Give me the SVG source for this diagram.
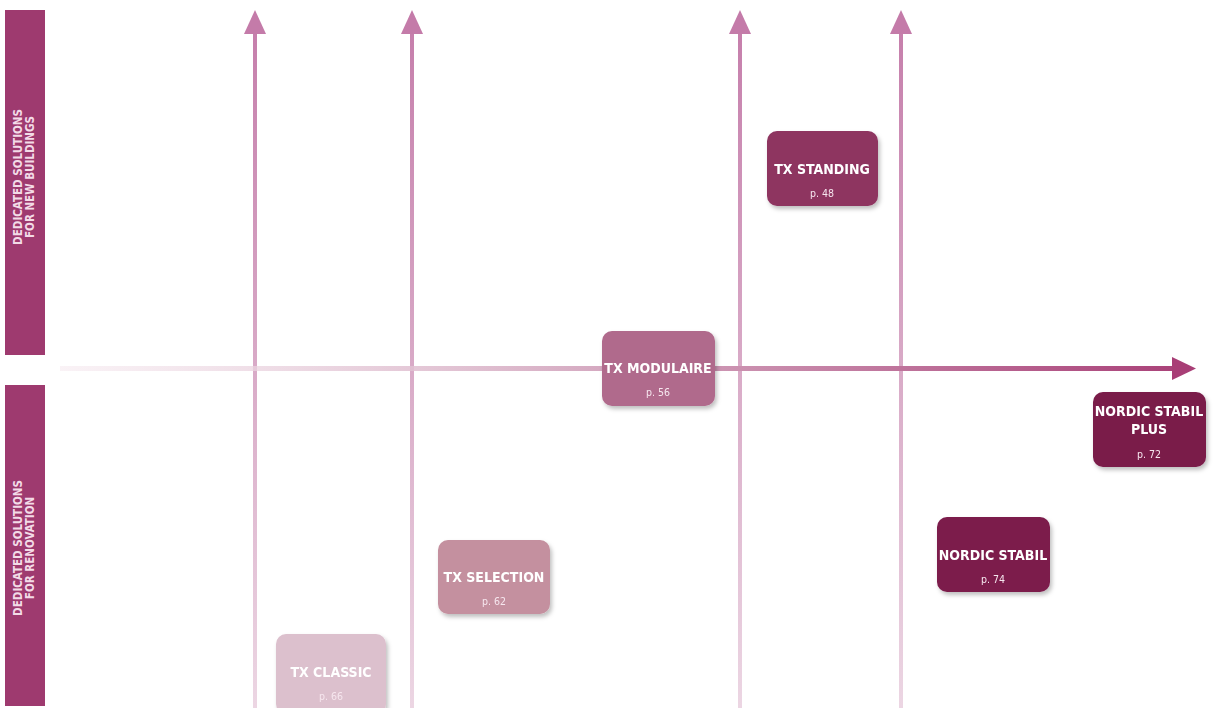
<svg xmlns="http://www.w3.org/2000/svg" width="1229" height="708" viewBox="0 0 1229 708">
<defs>
<linearGradient id="gv" x1="0" y1="708" x2="0" y2="0" gradientUnits="userSpaceOnUse">
<stop offset="0" stop-color="#ecd6e3"/>
<stop offset="1" stop-color="#c47ba9"/>
</linearGradient>
<linearGradient id="gh" x1="60" y1="0" x2="1200" y2="0" gradientUnits="userSpaceOnUse">
<stop offset="0" stop-color="#f6eaf0" stop-opacity="0.6"/>
<stop offset="0.45" stop-color="#d7aec4"/>
<stop offset="1" stop-color="#a83e76"/>
</linearGradient>
<filter id="sh" x="-10%" y="-10%" width="125%" height="130%">
<feDropShadow dx="2" dy="3" stdDeviation="2" flood-color="#000" flood-opacity="0.25"/>
</filter>
<style>
.bar{fill:#9e3a6f}
.side{font-family:"DejaVu Sans Condensed","DejaVu Sans",sans-serif;font-stretch:condensed;font-weight:bold;font-size:11.5px;fill:#f3dbe7;text-anchor:middle}
.t{font-family:"DejaVu Sans Condensed","DejaVu Sans",sans-serif;font-stretch:condensed;font-weight:bold;font-size:14px;fill:#fff;text-anchor:middle}
.p{font-family:"DejaVu Sans Condensed","DejaVu Sans",sans-serif;font-stretch:condensed;font-size:10.5px;fill:#f6e6ee;text-anchor:middle}
.box{filter:url(#sh)}
</style>
</defs>
<rect width="1229" height="708" fill="#fff"/>
<g id="label-new">
<rect class="bar" x="5" y="10" width="40" height="345"/>
<text class="side" transform="translate(22,177) rotate(-90)">DEDICATED SOLUTIONS</text>
<text class="side" transform="translate(34,177) rotate(-90)">FOR NEW BUILDINGS</text>
</g>
<g id="label-renovation">
<rect class="bar" x="5" y="385" width="40" height="321"/>
<text class="side" transform="translate(22,548) rotate(-90)">DEDICATED SOLUTIONS</text>
<text class="side" transform="translate(34,548) rotate(-90)">FOR RENOVATION</text>
</g>
<g id="connectors">
<rect x="253" y="30" width="4" height="678" fill="url(#gv)"/>
<polygon points="255,10 244,34 266,34" fill="#c47ba9"/>
<rect x="410" y="30" width="4" height="678" fill="url(#gv)"/>
<polygon points="412,10 401,34 423,34" fill="#c47ba9"/>
<rect x="738" y="30" width="4" height="678" fill="url(#gv)"/>
<polygon points="740,10 729,34 751,34" fill="#c47ba9"/>
<rect x="899" y="30" width="4" height="678" fill="url(#gv)"/>
<polygon points="901,10 890,34 912,34" fill="#c47ba9"/>
<rect x="60" y="366" width="1120" height="5" fill="url(#gh)"/>
<polygon points="1196,368.5 1172,357 1172,380" fill="#a83e76"/>
</g>
<g id="tx-standing" class="box">
<rect x="767" y="131" width="111" height="75" rx="10" fill="#8e3561"/>
<text class="t" x="822" y="174">TX STANDING</text>
<text class="p" x="822" y="197">p. 48</text>
</g>
<g id="tx-modulaire" class="box">
<rect x="602" y="331" width="113" height="75" rx="10" fill="#b06a8c"/>
<text class="t" x="658" y="373">TX MODULAIRE</text>
<text class="p" x="658" y="396">p. 56</text>
</g>
<g id="nordic-stabil-plus" class="box">
<rect x="1093" y="392" width="113" height="75" rx="10" fill="#7a1b49"/>
<text class="t" x="1149" y="416">NORDIC STABIL</text>
<text class="t" x="1149" y="434">PLUS</text>
<text class="p" x="1149" y="458">p. 72</text>
</g>
<g id="nordic-stabil" class="box">
<rect x="937" y="517" width="113" height="75" rx="10" fill="#7b1c4b"/>
<text class="t" x="993" y="560">NORDIC STABIL</text>
<text class="p" x="993" y="583">p. 74</text>
</g>
<g id="tx-selection" class="box">
<rect x="438" y="540" width="112" height="74" rx="10" fill="#c4909f"/>
<text class="t" x="494" y="582">TX SELECTION</text>
<text class="p" x="494" y="605">p. 62</text>
</g>
<g id="tx-classic" class="box">
<rect x="276" y="634" width="110" height="80" rx="10" fill="#dcc0cd"/>
<text class="t" x="331" y="677">TX CLASSIC</text>
<text class="p" x="331" y="700">p. 66</text>
</g>
</svg>
